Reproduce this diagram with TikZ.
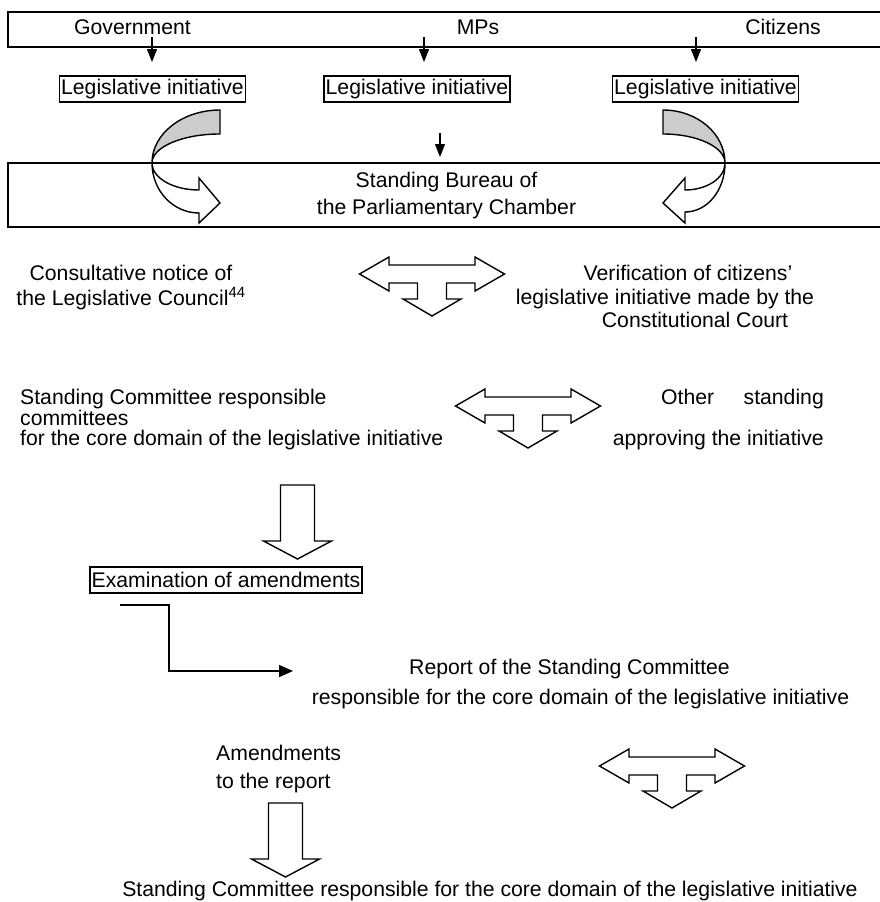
\documentclass[tikz,border=0pt]{standalone}
\usepackage{fontspec}
\setmainfont{Liberation Sans}
\usetikzlibrary{arrows.meta}
\definecolor{bandgray}{RGB}{204,204,204}
\begin{document}
\begin{tikzpicture}[x=1pt,y=-1pt,
  every node/.style={font=\fontsize{21.2}{25}\selectfont, inner sep=0pt},
  txt/.style={anchor=base},
  txtl/.style={anchor=base west},
  txtr/.style={anchor=base east},
  lbox/.style={draw, line width=1.5pt, minimum height=26pt, inner sep=1.7pt, anchor=center},
  band/.style={draw, line width=1.5pt},
  thinline/.style={line width=1.3pt},
  sarrow/.style={line width=1.2pt, -{Triangle[length=13pt,width=10pt]}},
  shp/.style={draw, line width=1.4pt, fill=white, line join=miter},
  tarrow/.pic={\draw[shp] (-72.5,0) -- (-43,-17) -- (-43,-9) -- (43,-9) -- (43,-17) -- (72.5,0) -- (43,17) -- (43,9) -- (14.5,9) -- (14.5,25) -- (29,25) -- (0,42) -- (-29,25) -- (-14.5,25) -- (-14.5,9) -- (-43,9) -- (-43,17) -- cycle;},
  darrow/.pic={\draw[shp] (-17,0) -- (17,0) -- (17,56) -- (34,56) -- (0,74) -- (-34,56) -- (-17,56) -- cycle;}
]
\useasboundingbox (0,0) rectangle (880,902);

% top band
\draw[band] (8,12) rectangle (885,47);
\node[txt] (gov) at (132.5,34.5) {Government};
\node[txt] (mps) at (478,34.5) {MPs};
\node[txt] (cit) at (783,34.5) {Citizens};

\node[lbox] (li1) at (152.5,89) {Legislative initiative};
\node[lbox] (li2) at (417,89) {Legislative initiative};
\node[lbox] (li3) at (705.5,89) {Legislative initiative};

\coordinate (a1s) at (152,37); \coordinate (a1e) at (152,62);
\coordinate (a2s) at (424,37); \coordinate (a2e) at (424,62);
\coordinate (a3s) at (696,37); \coordinate (a3e) at (696,62);
\draw[sarrow] (a1s) -- (a1e);
\draw[sarrow] (a2s) -- (a2e);
\draw[sarrow] (a3s) -- (a3e);

% bureau band
\draw[band] (8,163) rectangle (885,227);
\node[txt] (sb1) at (446.5,187.5) {Standing Bureau of};
\node[txt] (sb2) at (446.5,214.5) {the Parliamentary Chamber};

\coordinate (m0) at (440,133); \coordinate (m1) at (440,157);
\draw[sarrow] (m0) -- (m1);

% left curved arrow
\draw[shp, fill=bandgray] (220,110) .. controls (182.5,110) and (152,133.7) .. (152,163)
   .. controls (152,147) and (182.5,134) .. (220,134) -- cycle;
\draw[shp] (152,163) .. controls (152,190.6) and (173,213) .. (199,213) -- (199,223) -- (220,203)
   -- (199,178) -- (199,190) .. controls (173,190) and (152,178) .. (152,163) -- cycle;
% right curved arrow
\draw[shp, fill=bandgray] (663,110) .. controls (697.2,110) and (725,133.7) .. (725,163)
   .. controls (725,147) and (697.2,134) .. (663,134) -- cycle;
\draw[shp] (725,163) .. controls (725,190.6) and (707,212) .. (685,212) -- (685,223) -- (663,203)
   -- (685,178) -- (685,190) .. controls (707,190) and (725,178) .. (725,163) -- cycle;

% row 1
\node[txt] (cn1) at (131,280.5) {Consultative notice of};
\node[txt] (cn2) at (131,305.5) {the Legislative Council\textsuperscript{44}};
\pic at (432,274) {tarrow};
\node[txt] (vc1) at (688,280.5) {Verification of citizens'};
\node[txt] (vc2) at (665,304.5) {legislative initiative made by the};
\node[txt] (vc3) at (695,327.5) {Constitutional Court};

% row 2
\node[txtl] (sc1) at (20,404.5) {Standing Committee responsible};
\node[txtl] (sc2) at (20,425.5) {committees};
\node[txtl] (sc3) at (20,445.5) {for the core domain of the legislative initiative};
\pic at (528,406) {tarrow};
\node[txtl] (os1) at (661,404.5) {Other};
\node[txtr] (os2) at (824,404.5) {standing};
\node[txtr] (os3) at (824,445.5) {approving the initiative};

\pic at (297.5,485) {darrow};
\node[lbox] (ex) at (226,580) {Examination of amendments};

\coordinate (e0) at (120,605); \coordinate (e1) at (293,671);
\draw[thinline, -{Triangle[length=14pt,width=12pt]}] (e0) -- (169,605) -- (169,671) -- (e1);

\node[txt] (rp1) at (569.5,674.5) {Report of the Standing Committee};
\node[txt] (rp2) at (580.5,704.5) {responsible for the core domain of the legislative initiative};

\node[txtl] (am1) at (216,760.5) {Amendments};
\node[txtl] (am2) at (216,788.5) {to the report};
\pic at (672,766) {tarrow};
\pic at (285.5,803) {darrow};

\node[txt] (fin) at (490,896) {Standing Committee responsible for the core domain of the legislative initiative};
\end{tikzpicture}
\end{document}
